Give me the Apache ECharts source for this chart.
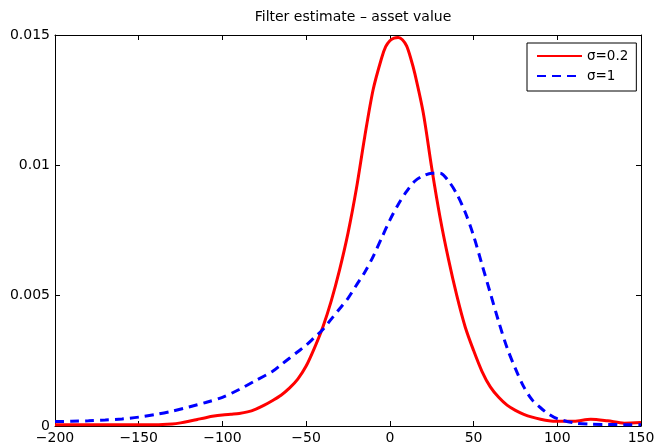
<!DOCTYPE html>
<html>
<head>
<meta charset="utf-8">
<script src="https://cdn.jsdelivr.net/npm/echarts@6/dist/echarts.min.js"></script>
<style>html,body{margin:0;padding:0;background:#fff}#c{width:654px;height:445px}</style>
</head>
<body>
<div id="c"></div>
<script>
const titleText = 'Filter estimate \u2013 asset value';
const seriesNames = ['\u03c3=0.2', '\u03c3=1'];

const redX = [-200,-180,-160,-140,-130,-125,-120,-115,-110,-105,-100,-95,-90,-85,-80,-75,-70,-65,-60,-55,-50,-45,-40,-35,-30,-25,-20,-15,-10,-5,-2.5,0,2.5,5,7.5,10,12.5,15,20,25,30,35,40,45,50,55,60,65,70,75,80,85,90,95,100,110,120,130,140,150];
const redY = [0.00005,0.00005,0.00005,0.00005,0.00008,0.00012,0.00018,0.00025,0.00032,0.00038,0.00042,0.00045,0.00048,0.00054,0.00065,0.0008,0.00098,0.00118,0.00145,0.0018,0.0023,0.0030,0.0038,0.0048,0.0060,0.0074,0.0091,0.0111,0.0129,0.0141,0.01455,0.01478,0.01488,0.0149,0.01482,0.01458,0.0141,0.0135,0.0120,0.0099,0.0080,0.0064,0.0050,0.0038,0.0029,0.0021,0.0015,0.0011,0.0008,0.0006,0.00045,0.00034,0.00026,0.0002,0.00018,0.00018,0.00026,0.0002,0.00011,0.00013];

const blueX = [-200,-190,-180,-170,-160,-150,-140,-130,-120,-110,-100,-90,-80,-70,-65,-60,-55,-50,-45,-40,-35,-30,-25,-20,-15,-10,-5,0,5,10,15,20,25,30,35,40,45,50,55,60,65,70,75,80,85,90,95,100,110,120,130,140,150];
const blueY = [0.00017,0.00018,0.0002,0.00023,0.00027,0.00034,0.00044,0.00057,0.00073,0.0009,0.0011,0.0014,0.00175,0.0021,0.00235,0.0026,0.00285,0.0031,0.0034,0.0037,0.0041,0.0045,0.0049,0.0054,0.0059,0.0065,0.0072,0.0079,0.0085,0.0090,0.0094,0.0096,0.0097,0.0097,0.0094,0.0089,0.0082,0.0073,0.0062,0.0051,0.0040,0.0030,0.0022,0.0015,0.0010,0.0007,0.00045,0.00028,0.00012,0.00007,0.00006,0.00005,0.00005];

const xMin = -200, xMax = 150, xStep = 50;
const yMin = 0, yMax = 0.015, yStep = 0.005;

const font = '"DejaVu Sans", Verdana, sans-serif';
const fmtX = v => String(v).replace('-', '\u2212');
const fmtY = v => (v === 0 ? '0' : String(+v.toFixed(4)));

const pair = (xs, ys) => xs.map((x, i) => [x, ys[i]]);

const axisCommonX = {
  type: 'value', min: xMin, max: xMax, interval: xStep,
  axisLine: { show: true, onZero: false, lineStyle: { color: '#000', width: 1 } },
  axisTick: { show: true, inside: true, length: 5, lineStyle: { color: '#000' } },
  splitLine: { show: false }
};
const axisCommonY = {
  type: 'value', min: yMin, max: yMax, interval: yStep,
  axisLine: { show: true, onZero: false, lineStyle: { color: '#000', width: 1 } },
  axisTick: { show: true, inside: true, length: 5, lineStyle: { color: '#000' } },
  splitLine: { show: false }
};

const chart = echarts.init(document.getElementById('c'), null, { renderer: 'canvas' });
chart.setOption({
  animation: false,
  backgroundColor: '#fff',
  title: {
    text: titleText, left: 348, textAlign: 'center', top: 5,
    textStyle: { fontFamily: font, fontSize: 14, fontWeight: 'normal', color: '#000' }
  },
  legend: {
    left: 527, top: 43, orient: 'vertical',
    itemWidth: 45, itemHeight: 14, itemGap: 6,
    padding: [6, 8, 8, 9],
    borderColor: '#000', borderWidth: 1, backgroundColor: '#fff',
    itemStyle: { opacity: 0 },
    textStyle: { fontFamily: font, fontSize: 13.5, color: '#000' },
    data: seriesNames
  },
  grid: { left: 55, right: 13, top: 35, bottom: 19, containLabel: false, outerBoundsMode: 'none' },
  xAxis: [
    Object.assign({}, axisCommonX, { position: 'bottom',
      axisLabel: { show: true, margin: 5, color: '#000', fontFamily: font, fontSize: 14, formatter: fmtX } }),
    Object.assign({}, axisCommonX, { position: 'top', axisLabel: { show: false } })
  ],
  yAxis: [
    Object.assign({}, axisCommonY, { position: 'left',
      axisLabel: { show: true, margin: 5, color: '#000', fontFamily: font, fontSize: 14, formatter: fmtY } }),
    Object.assign({}, axisCommonY, { position: 'right', axisLabel: { show: false } })
  ],
  series: [
    { name: seriesNames[0], type: 'line', data: pair(redX, redY), smooth: 0.3, symbol: 'none',
      lineStyle: { color: '#ff0000', width: 3, type: 'solid' }, itemStyle: { color: '#ff0000' } },
    { name: seriesNames[1], type: 'line', data: pair(blueX, blueY), smooth: 0.3, symbol: 'none',
      lineStyle: { color: '#0000ff', width: 3, type: [9, 6] }, itemStyle: { color: '#0000ff' } }
  ]
});
</script>
</body>
</html>
